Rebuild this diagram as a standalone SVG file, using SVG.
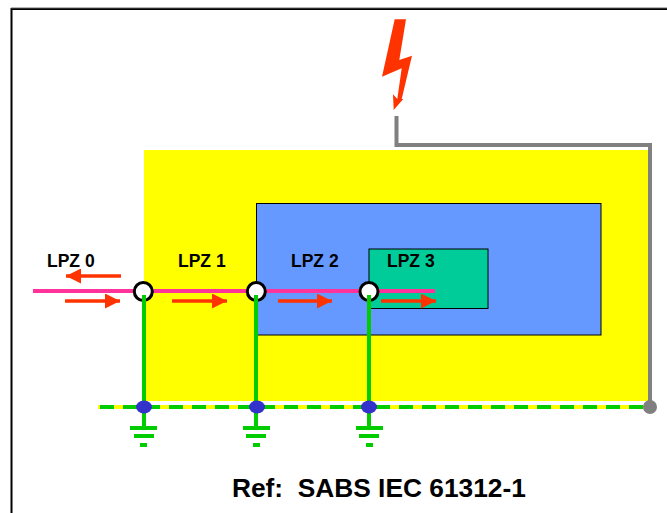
<svg xmlns="http://www.w3.org/2000/svg" width="667" height="513" viewBox="0 0 667 513">
<defs>
<marker id="ah" markerUnits="userSpaceOnUse" markerWidth="15" markerHeight="15" refX="15" refY="7.500" orient="auto"><path d="M0 0L15 7.500L0 15Z" fill="#ff3300"/></marker>
</defs>
<style>
.l{font-family:"Liberation Sans",Arial,sans-serif;font-weight:700;font-size:17.500px;fill:#000}
.z{stroke:#000;stroke-width:1}
.a{stroke:#ff3300;stroke-width:3.700;fill:none;marker-end:url(#ah)}
.g{stroke:#00cc00;stroke-width:4;fill:none}
.r{fill:#00cc00}
.s{fill:#fff;stroke:#000;stroke-width:3}
.d{fill:#3333cc}
</style>
<rect width="667" height="513" fill="#fff"/>
<path d="M11.500 513V9H667" fill="none" stroke="#000" stroke-width="2"/>
<path d="M11 7.800H667" stroke="#999" stroke-width="1"/>
<g id="lpz1"><rect x="144" y="150" width="504" height="251" fill="#ffff00"/><text class="l" x="178" y="266.500">LPZ 1</text></g>
<g id="lpz2"><rect class="z" x="256.500" y="203.500" width="344.500" height="131.500" fill="#6699ff"/><text class="l" x="291" y="266.500">LPZ 2</text></g>
<g id="lpz3"><rect class="z" x="369" y="249" width="119" height="59.500" fill="#00cc99"/><text class="l" x="387" y="266.500">LPZ 3</text></g>
<g id="lpz0"><text class="l" x="47" y="266.500">LPZ 0</text></g>
<g id="lightning"><polygon points="394.700,19.300 406,19.300 399.300,60 412,55.700 401.700,99 403.300,99 393.700,110 393,94.300 397.300,99 401.700,68.300 382,76.700" fill="#ff3300"/></g>
<g id="connectors">
<path d="M396.500 116V145H650V407" fill="none" stroke="#808080" stroke-width="4"/>
<path d="M98 407H650" stroke="#ffff00" stroke-width="4"/>
<path d="M100 407H650" stroke="#00cc00" stroke-width="4" stroke-dasharray="14 9"/>
<path d="M33 291H435" stroke="#ff3399" stroke-width="4"/>
<path class="a" d="M121 276H66"/>
<path class="a" d="M65 301H120"/>
<path class="a" d="M172 301H227"/>
<path class="a" d="M278 301H332"/>
<path class="a" d="M381 301H436"/>
</g>
<g id="spd1"><circle class="s" cx="143.300" cy="291.500" r="9"/><path class="g" d="M144 295V427"/><ellipse class="d" cx="144" cy="407" rx="8" ry="6.500"/><rect class="r" x="130" y="426" width="27" height="4"/><rect class="r" x="134" y="434" width="20" height="4"/><rect class="r" x="140" y="443" width="7" height="4"/></g>
<g id="spd2"><circle class="s" cx="256.300" cy="291.500" r="9"/><path class="g" d="M256 295V427"/><ellipse class="d" cx="257" cy="407" rx="8" ry="6.500"/><rect class="r" x="243" y="426" width="27" height="4"/><rect class="r" x="246" y="434" width="20" height="4"/><rect class="r" x="253" y="443" width="7" height="4"/></g>
<g id="spd3"><circle class="s" cx="369" cy="291.500" r="9"/><path class="g" d="M369 295V427"/><ellipse class="d" cx="369" cy="407" rx="8" ry="6.500"/><rect class="r" x="356" y="426" width="27" height="4"/><rect class="r" x="359" y="434" width="20" height="4"/><rect class="r" x="366" y="443" width="7" height="4"/></g>
<g id="bond"><circle cx="650" cy="407" r="7" fill="#808080"/></g>
<g id="ref"><text x="232" y="497" font-family="'Liberation Sans',Arial,sans-serif" font-weight="700" font-size="26.300" xml:space="preserve">Ref:  SABS IEC 61312-1</text></g>
</svg>
